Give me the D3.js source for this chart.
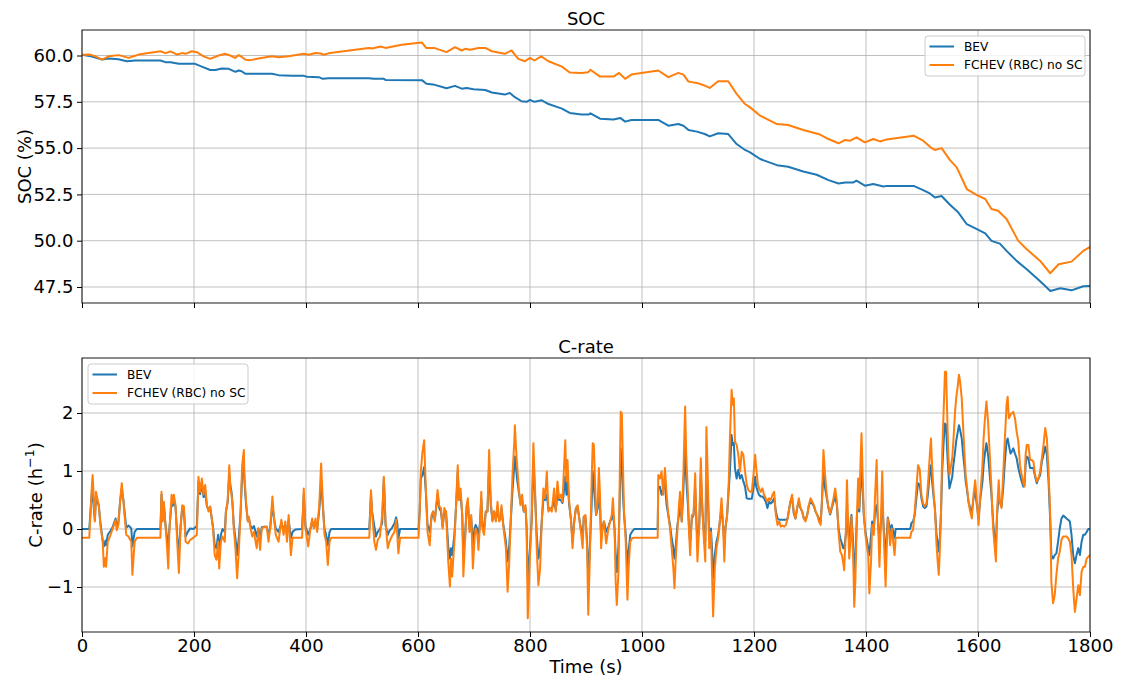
<!DOCTYPE html>
<html>
<head>
<meta charset="utf-8">
<script src="https://cdn.jsdelivr.net/npm/d3@7"></script>
<style>
body { margin: 0; background: #fff; }
svg { font-family: "DejaVu Sans", sans-serif; }
</style>
</head>
<body>
<svg id="chart" width="1121" height="679"></svg>
<script>
// ---- data ----
var xTicks = [0, 200, 400, 600, 800, 1000, 1200, 1400, 1600, 1800];
var socTicks = [47.5, 50.0, 52.5, 55.0, 57.5, 60.0];
var cTicks = [-1, 0, 1, 2];
var seriesNames = ["BEV", "FCHEV (RBC) no SC"];

// SOC (%) - BEV
var socBevT = [0,18,36,48,65,80,95,140,149,158,173,202,214,229,238,250,262,274,280,285,292,321,339,351,375,396,402,423,430,440,512,521,539,542,607,
  615,627,651,666,678,687,699,720,732,755,764,773,785,794,800,808,821,833,857,871,892,904,908,925,949,961,970,981,1029,1047,1065,1074,1083,1098,1112,1121,1136,1154,1169,1184,
  1193,1211,1241,1261,1288,1312,1333,1351,1363,1377,1383,1398,1413,1431,1437,1485,1502,1514,1523,1535,1550,1565,1580,1598,1613,1624,1639,1651,1669,1687,1705,1720,1729,1747,1767,1788,1800];
var socBev = [60.04,59.95,59.78,59.84,59.80,59.69,59.73,59.73,59.64,59.64,59.55,59.55,59.40,59.22,59.22,59.30,59.28,59.12,59.19,59.15,59.01,59.01,59.01,58.94,58.90,58.90,58.85,58.83,58.74,58.77,58.77,58.74,58.74,58.68,58.67,
  58.47,58.44,58.23,58.36,58.21,58.25,58.18,58.14,58.00,57.89,57.98,57.75,57.53,57.50,57.60,57.50,57.58,57.38,57.13,56.90,56.81,56.81,56.88,56.59,56.54,56.63,56.43,56.52,56.52,56.21,56.30,56.21,55.98,55.89,55.76,55.63,55.80,55.76,55.22,54.90,
  54.77,54.41,54.08,53.99,53.74,53.56,53.27,53.09,53.14,53.14,53.24,52.97,53.06,52.93,52.96,52.96,52.73,52.55,52.33,52.41,51.94,51.52,50.89,50.62,50.39,49.99,49.84,49.45,48.91,48.46,47.97,47.55,47.28,47.43,47.32,47.54,47.56];

// SOC (%) - FCHEV
var socFcT = [0,15,24,36,48,65,71,83,92,101,140,149,158,170,179,185,196,205,217,229,244,256,265,273,280,286,292,301,315,339,351,369,396,405,417,426,432,443,512,518,533,542,571,607,
  615,630,651,666,678,684,693,708,720,732,755,767,779,791,800,808,820,833,857,871,892,904,908,925,949,959,970,981,1029,1047,1065,1074,1083,1098,1109,1121,1136,1154,1169,1184,
  1193,1211,1241,1261,1288,1318,1333,1351,1363,1372,1383,1398,1413,1425,1437,1485,1502,1517,1523,1535,1550,1562,1580,1598,1613,1624,1636,1651,1672,1687,1711,1720,1729,1744,1767,1788,1800];
var socFc = [60.04,60.05,59.95,59.78,59.96,60.02,59.98,59.87,59.96,60.05,60.23,60.13,60.22,60.05,60.13,60.09,60.23,60.18,59.95,59.82,60.00,60.09,60.00,59.87,60.02,59.91,59.77,59.75,59.84,59.96,59.91,59.96,60.09,60.04,60.13,60.11,60.04,60.14,60.41,60.38,60.49,60.41,60.58,60.70,
  60.40,60.40,60.18,60.45,60.27,60.36,60.31,60.41,60.41,60.23,60.09,60.27,59.82,59.69,59.87,59.73,59.95,59.69,59.40,59.08,59.06,59.10,59.23,58.86,58.86,59.06,58.74,58.97,59.19,58.83,59.06,58.97,58.59,58.52,58.41,58.25,58.61,58.61,57.93,57.38,
  57.20,56.75,56.30,56.25,55.98,55.73,55.49,55.26,55.44,55.40,55.58,55.31,55.49,55.36,55.47,55.67,55.40,55.00,54.90,55.00,54.35,53.96,52.79,52.46,52.25,51.71,51.62,51.17,49.99,49.54,48.91,48.58,48.24,48.73,48.87,49.45,49.66];

// C-rate (1/h): shared time stamps
var cT = [
  0,13,18,19,23,25,30,33,37,39,42,43,46,51,55,60,62,65,68,71,74,76,79,83,88,90,94,98,140,
  142,144,146,149,152,154,156,160,162,164,167,170,173,176,179,182,185,189,193,199,205,
  208,211,214,217,220,223,226,229,234,237,240,243,245,248,251,255,257,260,263,265,267,269,271,274,277,280,283,286,289,290,293,296,298,
  301,304,307,310,312,315,318,321,326,330,333,336,340,343,346,351,356,360,363,366,369,373,376,381,393,
  396,399,404,408,411,414,417,420,424,427,430,433,436,439,442,445,513,
  516,518,522,525,528,532,536,539,542,546,549,553,558,561,563,565,568,601,
  603,605,608,611,614,617,621,624,627,630,635,638,641,644,647,650,654,657,659,661,665,668,671,673,676,679,681,684,687,689,692,695,698,701,703,706,708,711,713,715,718,
  721,724,727,730,733,736,739,742,745,748,749,752,757,760,763,766,769,772,773,775,777,780,783,786,789,792,794,796,798,800,
  803,806,809,812,815,818,821,824,827,830,833,836,839,843,846,849,852,855,858,860,863,865,867,870,873,876,879,882,885,888,891,894,896,899,
  902,904,907,910,912,914,918,921,923,925,927,929,932,934,936,940,943,946,948,951,953,955,958,960,962,964,966,968,971,974,976,979,982,986,1028,
  1029,1032,1035,1038,1041,1044,1047,1050,1053,1056,1058,1060,1063,1066,1068,1071,1074,1077,1079,1082,1084,1086,1089,1092,1095,1097,1099,1102,1105,1108,1110,1113,1115,1118,1120,1123,1125,1127,1130,1133,1136,1139,1142,1145,1147,1149,1152,1155,1157,
  1160,1162,1164,1166,1169,1172,1175,1178,1181,1184,1187,1190,1193,1196,1199,1202,1204,1207,1209,1212,1215,1218,1221,1224,1227,1230,1233,1236,1239,1242,1245,1248,1251,1254,1257,1260,
  1262,1265,1268,1271,1274,1277,1280,1283,1286,1289,1292,1295,1298,1301,1304,1307,1310,1313,1316,1319,1321,1324,1327,1330,1333,1336,1339,1342,1345,1348,1351,
  1354,1357,1359,1361,1364,1366,1368,1370,1373,1374,1377,1379,1381,1384,1386,1388,1390,1392,1394,1396,1399,1402,1404,1406,1409,1411,1414,1416,1419,1421,1424,1426,1429,1431,1433,1435,1437,1439,1442,1443,1446,1448,1451,1453,1479,
  1481,1484,1487,1490,1493,1496,1499,1502,1505,1508,1511,1514,1516,1518,1521,1523,1526,1528,1530,1532,1534,1536,1539,1541,1543,1545,1547,1549,1552,1554,1556,1559,1561,1564,1566,1568,1571,1573,1576,1578,1580,1583,1586,1589,
  1592,1595,1598,1601,1603,1605,1608,1610,1612,1615,1618,1621,1624,1627,1630,1632,1634,1637,1639,1642,1645,1648,1651,1653,1655,1658,1660,1663,1666,1669,1672,1675,1678,1681,1683,1685,1687,1690,1693,1696,1699,1702,1705,1708,1711,1714,1717,1720,1723,1726,1729,
  1731,1734,1737,1740,1743,1746,1749,1752,1755,1758,1761,1764,1767,1770,1773,1776,1779,1782,1785,1788,1791,1794,1797,1800];

var cBev = [
  0,0,0.70,0.60,0.15,0.55,0.40,0.10,-0.20,-0.30,-0.20,-0.28,-0.10,-0.03,0.04,0.18,0.06,0.12,0.47,0.70,0.50,0.30,0.02,0.06,0.01,-0.30,-0.05,0,0,
  0.59,0.15,0.45,0.08,-0.16,-0.33,0.00,0.47,0.40,0.52,0.38,-0.10,-0.45,0.05,0.36,0.30,-0.13,-0.05,0.01,0,0.05,
  0.82,0.60,0.79,0.55,0.64,0.40,0.33,0.36,0.03,-0.28,-0.33,-0.10,-0.39,-0.10,0.00,-0.05,0.30,0.45,0.93,0.75,0.64,0.40,0.07,-0.16,-0.45,-0.15,0.24,0.93,1.05,0.85,0.41,0.15,0.18,
  0.05,0.01,0.05,-0.05,-0.13,0.01,-0.16,0.03,0.04,0.04,-0.10,0.01,0.41,0.18,0.01,-0.05,0.10,0.00,0.07,-0.05,0.16,-0.16,-0.05,-0.01,0,
  0.59,0.05,-0.10,0.01,0.13,0.03,0.13,0.00,0.36,0.82,0.40,0.00,-0.10,-0.28,-0.05,0,0,
  0.59,0.30,0.05,-0.13,-0.05,0.00,0.10,0.87,0.07,-0.10,-0.03,0.01,0.10,0.20,0.10,-0.16,0,0,
  0.30,0.87,0.93,1.07,0.64,0.07,-0.05,0.18,0.30,0.16,0.59,0.36,0.30,0.04,0.30,0.30,-0.30,-0.51,-0.33,-0.45,-0.10,0.40,0.99,0.50,0.61,0.24,-0.45,-0.13,0.40,0.47,0.01,0.20,-0.28,0.01,0.07,0.00,-0.16,0.15,0.53,0.05,0.01,
  0.30,0.30,1.10,0.41,0.15,0.30,0.15,0.36,0.15,0.20,0.36,0.10,-0.22,-0.56,-0.28,0.20,0.70,1.10,1.25,1.05,0.85,0.64,0.45,0.47,0.30,0.36,0.01,-0.85,-0.60,-0.33,
  0.15,1.16,0.59,-0.10,-0.51,-0.35,0.13,0.53,0.50,0.59,0.33,0.36,0.35,0.47,0.33,0.59,0.50,0.50,0.45,0.59,0.90,0.59,0.82,0.41,0.18,-0.22,0.13,0.36,0.39,0.18,0.00,-0.16,0.21,0.20,
  -0.22,-0.85,-0.28,0.40,1.00,0.73,0.24,0.36,0.59,0.40,-0.13,0.00,0.13,0.05,-0.05,0.04,0.13,0.18,0.30,0.00,-0.45,-0.74,-0.30,0.41,1.39,1.10,0.59,0.24,-0.10,-0.68,-0.39,-0.10,-0.05,0,0,
  0.70,0.73,0.59,0.70,0.76,0.41,0.24,0.07,-0.16,-0.33,-0.51,-0.33,0.05,0.24,0.47,0.13,0.70,1.45,0.87,0.41,0.01,-0.22,0.18,0.24,0.70,0.18,-0.22,0.01,0.93,0.30,0.00,-0.22,0.99,0.47,-0.16,0.01,-0.33,-0.85,-0.45,-0.22,-0.10,0.13,0.36,0.05,-0.28,0.01,0.24,0.70,0.99,
  1.62,1.45,1.48,1.05,0.87,1.02,0.87,0.93,0.82,0.73,0.53,0.52,0.52,0.52,0.70,0.90,0.73,0.64,0.59,0.56,0.56,0.53,0.47,0.36,0.47,0.44,0.47,0.53,0.30,0.18,0.16,0.16,0.16,0.16,0.16,0.18,
  0.30,0.47,0.53,0.27,0.18,0.36,0.47,0.36,0.30,0.18,0.16,0.24,0.41,0.47,0.44,0.39,0.30,0.24,0.18,0.13,0.41,0.99,0.70,0.53,0.36,0.25,0.36,0.47,0.56,0.41,0.00,
  -0.16,-0.25,-0.33,-0.33,-0.10,0.35,0.00,-0.22,0.18,0.24,-0.22,-0.74,-0.56,0.30,0.36,0.30,0.70,1.16,0.70,0.24,-0.05,-0.22,-0.33,-0.45,-0.10,0.13,0.01,0.30,0.41,0.18,-0.22,0.01,0.47,0.13,-0.22,-0.51,-0.10,0.20,0.04,-0.05,0.07,-0.02,-0.16,0,0,
  0.10,0.13,0.24,0.53,0.79,0.76,0.53,0.39,0.36,0.39,0.64,0.99,1.10,0.82,0.53,0.36,-0.10,-0.22,-0.39,-0.16,0.30,0.99,1.56,1.82,1.79,1.33,0.99,0.70,0.82,0.90,1.10,1.33,1.51,1.68,1.79,1.71,1.56,1.33,1.05,0.82,0.70,0.47,0.36,0.30,
  0.53,0.64,0.41,0.18,0.41,0.59,0.82,1.10,1.28,1.48,1.28,0.93,0.59,0.13,-0.22,-0.28,0.24,0.59,0.47,0.39,0.70,1.16,1.51,1.56,1.45,1.30,1.33,1.39,1.30,1.22,1.05,0.93,0.82,0.73,0.76,1.10,1.25,1.22,1.05,1.05,1.05,0.90,0.79,0.87,0.93,1.16,1.28,1.42,1.28,0.82,0.13,
  -0.45,-0.51,-0.45,-0.42,-0.22,0.01,0.18,0.23,0.21,0.18,0.16,0.13,-0.10,-0.45,-0.59,-0.45,-0.33,-0.45,-0.22,-0.10,-0.10,-0.05,0.00,0.00];

var cFc = [
  -0.15,-0.15,0.80,0.93,0.13,0.64,0.41,0.05,-0.22,-0.65,-0.50,-0.65,-0.22,-0.10,0.01,0.15,-0.02,0.07,0.47,0.79,0.47,0.24,-0.10,-0.13,-0.22,-0.79,-0.22,-0.15,-0.15,
  0.64,0.13,0.47,0.07,-0.33,-0.68,-0.05,0.59,0.44,0.59,0.41,-0.22,-0.76,0.01,0.41,0.39,-0.22,-0.25,-0.19,-0.15,-0.10,
  0.90,0.64,0.87,0.59,0.76,0.41,0.30,0.39,0.01,-0.45,-0.53,-0.22,-0.68,-0.22,-0.13,-0.22,0.30,0.47,1.10,0.70,0.59,0.41,0.01,-0.33,-0.85,-0.39,0.24,1.10,1.36,0.93,0.47,0.13,0.21,
  0.01,-0.13,-0.05,-0.22,-0.33,0.01,-0.36,0.01,0.04,0.04,-0.22,0.01,0.56,0.18,-0.10,-0.22,0.16,-0.10,0.13,-0.22,0.24,-0.45,-0.15,-0.15,-0.15,
  0.70,0.01,-0.30,0.01,0.18,0.01,0.18,-0.05,0.47,1.13,0.47,-0.10,-0.22,-0.62,-0.22,-0.15,-0.15,
  0.67,0.30,-0.22,-0.36,-0.19,-0.13,0.24,0.90,0.13,-0.33,-0.22,-0.13,-0.05,0.16,-0.10,-0.42,-0.15,-0.15,
  0.30,0.99,1.33,1.53,0.70,-0.05,-0.28,0.24,0.30,0.13,0.67,0.39,0.36,0.01,0.36,0.30,-0.56,-0.99,-0.51,-0.82,-0.22,0.41,1.10,0.50,0.70,0.24,-0.82,-0.22,0.41,0.53,-0.05,0.24,-0.68,-0.16,0.01,-0.10,-0.36,0.13,0.64,0.01,-0.10,
  0.30,0.30,1.36,0.47,0.13,0.30,0.13,0.47,0.13,0.18,0.41,0.07,-0.33,-1.08,-0.56,0.24,0.99,1.51,1.79,1.39,1.10,0.70,0.41,0.59,0.30,0.41,0.01,-1.54,-1.02,-0.45,
  0.13,1.48,0.70,-0.33,-0.97,-0.68,0.13,0.70,0.53,0.99,0.30,0.36,0.30,0.70,0.30,0.82,0.53,0.59,0.47,0.90,1.53,0.82,1.19,0.47,0.18,-0.33,0.13,0.36,0.41,0.18,-0.05,-0.33,0.21,0.24,
  -0.33,-1.48,-0.45,0.82,1.48,1.45,0.24,0.47,1.05,0.59,-0.33,-0.05,0.13,-0.05,-0.25,0.01,0.13,0.24,0.53,0.01,-0.91,-1.31,-0.74,0.70,2.02,1.99,1.10,0.30,-0.22,-1.22,-0.68,-0.22,-0.16,-0.15,-0.15,
  0.93,0.87,0.99,0.59,1.05,0.59,0.24,0.01,-0.33,-0.68,-1.02,-0.56,-0.05,0.41,0.64,0.13,0.99,2.11,1.28,0.59,-0.05,-0.45,0.24,0.24,0.96,0.13,-0.56,0.01,1.22,0.30,-0.10,-0.56,1.76,0.70,-0.33,-0.05,-0.74,-1.51,-0.68,-0.33,-0.16,0.13,0.53,0.01,-0.56,0.01,0.24,0.84,1.56,
  2.40,2.14,2.25,1.51,1.45,1.28,0.99,1.33,1.28,0.99,0.76,0.67,0.64,0.64,0.93,1.28,1.05,0.76,0.70,0.64,0.70,0.59,0.53,0.47,0.53,0.50,0.59,0.64,0.24,0.07,0.13,0.04,0.06,0.04,0.07,0.18,
  0.30,0.47,0.59,0.30,0.18,0.36,0.53,0.36,0.30,0.18,0.13,0.24,0.41,0.53,0.47,0.41,0.30,0.24,0.13,0.07,0.41,1.36,0.93,0.59,0.36,0.27,0.39,0.53,0.70,0.47,-0.05,
  -0.39,-0.45,-0.56,-0.71,-0.05,0.84,0.13,-0.51,-0.10,0.21,-0.45,-1.34,-0.91,0.30,0.87,0.36,1.10,1.65,0.93,0.30,-0.10,-0.33,-0.45,-1.11,-0.56,0.07,-0.10,0.53,1.19,0.30,-0.65,-0.05,0.99,0.13,-0.45,-0.99,-0.33,0.18,-0.10,-0.28,0.01,-0.16,-0.45,-0.15,-0.15,
  -0.05,-0.02,0.30,0.70,1.10,1.02,0.59,0.44,0.39,0.44,0.82,1.28,1.56,1.10,0.59,0.36,-0.28,-0.56,-0.79,-0.33,0.30,1.28,2.14,2.71,2.71,1.97,1.28,0.93,1.10,1.22,1.51,2.02,2.25,2.48,2.66,2.54,2.25,1.85,1.28,0.93,0.76,0.47,0.30,0.18,
  0.59,0.84,0.47,0.07,0.41,0.70,1.10,1.56,1.85,2.20,1.85,1.28,0.70,0.01,-0.33,-0.56,0.30,0.84,0.47,0.36,0.93,1.56,2.14,2.28,1.91,1.97,1.99,2.02,1.91,1.68,1.51,1.10,0.93,0.79,0.73,1.28,1.45,1.45,1.19,1.19,1.16,0.93,0.82,0.87,0.99,1.22,1.45,1.74,1.56,0.99,0.24,
  -0.91,-1.28,-1.14,-0.79,-0.51,-0.39,-0.19,-0.13,-0.13,-0.13,-0.16,-0.22,-0.45,-1.02,-1.43,-1.20,-0.97,-1.14,-0.74,-0.65,-0.65,-0.51,-0.48,-0.45];

if (cT.length !== cBev.length || cT.length !== cFc.length) console.error("length mismatch", cT.length, cBev.length, cFc.length);

// ---- drawing ----
var svg = d3.select("#chart");
var blue = "#1f77b4", orange = "#ff7f0e";
var left = 82, right = 1090;
var fs = 18;

var x = d3.scaleLinear().domain([0, 1800]).range([left, right]);

function legend(lx, ly) {
  var lg = svg.append("g").attr("transform", "translate(" + lx + "," + ly + ")");
  lg.append("rect").attr("width", 160).attr("height", 40).attr("rx", 3)
    .attr("fill", "#fff").attr("fill-opacity", 0.8)
    .attr("stroke", "#cccccc").attr("stroke-width", 1);
  [blue, orange].forEach(function (c, i) {
    var yy = 10.5 + i * 18.5;
    lg.append("line").attr("x1", 4.5).attr("x2", 29).attr("y1", yy).attr("y2", yy)
      .attr("stroke", c).attr("stroke-width", 2);
    lg.append("text").attr("x", 39).attr("y", yy + 4.3)
      .attr("font-size", 12.2).attr("fill", "#000").text(seriesNames[i]);
  });
}

function panel(p) {
  var y = d3.scaleLinear().domain(p.yDomain).range([p.bottom, p.top]);
  var g = svg.append("g");

  var grid = g.append("g").attr("stroke", "#b0b0b0").attr("stroke-width", 0.8);
  grid.selectAll("line.gx").data(xTicks).enter().append("line")
    .attr("x1", function (d) { return x(d); }).attr("x2", function (d) { return x(d); })
    .attr("y1", p.top).attr("y2", p.bottom);
  grid.selectAll("line.gy").data(p.yTicks).enter().append("line")
    .attr("x1", left).attr("x2", right)
    .attr("y1", function (d) { return y(d); }).attr("y2", function (d) { return y(d); });

  svg.append("clipPath").attr("id", p.id).append("rect")
    .attr("x", left).attr("y", p.top).attr("width", right - left).attr("height", p.bottom - p.top);

  var line = d3.line().x(function (d) { return x(d[0]); }).y(function (d) { return y(d[1]); });
  p.series.forEach(function (s) {
    g.append("path").datum(d3.zip(s.t, s.v))
      .attr("clip-path", "url(#" + p.id + ")")
      .attr("d", line).attr("fill", "none")
      .attr("stroke", s.color).attr("stroke-width", 2)
      .attr("stroke-linejoin", "round").attr("stroke-linecap", "square");
  });

  g.append("rect").attr("x", left).attr("y", p.top)
    .attr("width", right - left).attr("height", p.bottom - p.top)
    .attr("fill", "none").attr("stroke", "#000").attr("stroke-width", 0.9);

  var ya = d3.axisLeft(y).tickValues(p.yTicks).tickFormat(p.fmt)
    .tickSizeInner(5).tickSizeOuter(0).tickPadding(3.5);
  g.append("g").attr("transform", "translate(" + left + ",0)").call(ya)
    .call(function (a) { a.select(".domain").remove(); })
    .attr("font-size", fs).attr("font-family", "DejaVu Sans, sans-serif");

  var xa = d3.axisBottom(x).tickValues(xTicks).tickFormat(p.showX ? d3.format("d") : "")
    .tickSizeInner(5).tickSizeOuter(0).tickPadding(2.5);
  g.append("g").attr("transform", "translate(0," + p.bottom + ")").call(xa)
    .call(function (a) { a.select(".domain").remove(); })
    .attr("font-size", fs).attr("font-family", "DejaVu Sans, sans-serif");

  g.selectAll(".tick line").attr("stroke", "#000").attr("stroke-width", 1);
  g.selectAll(".tick text").attr("fill", "#000");

  svg.append("text").attr("x", (left + right) / 2).attr("y", p.top - 5)
    .attr("text-anchor", "middle").attr("font-size", fs).text(p.title);

  var yl = svg.append("text")
    .attr("transform", "translate(" + p.ylabelX + "," + (p.top + p.bottom) / 2 + ") rotate(-90)")
    .attr("text-anchor", "middle").attr("font-size", fs);
  p.ylabel(yl);
  return y;
}

panel({
  id: "clipSoc", top: 30, bottom: 303, yDomain: [46.636, 61.377], yTicks: socTicks,
  fmt: d3.format(".1f"), title: "SOC", showX: false, ylabelX: 30.5,
  ylabel: function (t) { t.text("SOC (%)"); },
  series: [{ t: socBevT, v: socBev, color: blue }, { t: socFcT, v: socFc, color: orange }]
});

panel({
  id: "clipC", top: 358, bottom: 632, yDomain: [-1.776, 2.948], yTicks: cTicks,
  fmt: d3.format("d"), title: "C-rate", showX: true, ylabelX: 41.5,
  ylabel: function (t) {
    t.append("tspan").text("C-rate (h");
    t.append("tspan").attr("dy", -7.5).attr("font-size", 12.6).text("\u22121");
    t.append("tspan").attr("dy", 7.5).text(")");
  },
  series: [{ t: cT, v: cBev, color: blue }, { t: cT, v: cFc, color: orange }]
});

svg.append("text").attr("x", (left + right) / 2).attr("y", 673)
  .attr("text-anchor", "middle").attr("font-size", fs).text("Time (s)");

legend(925, 36);
legend(88, 364);
</script>
</body>
</html>
